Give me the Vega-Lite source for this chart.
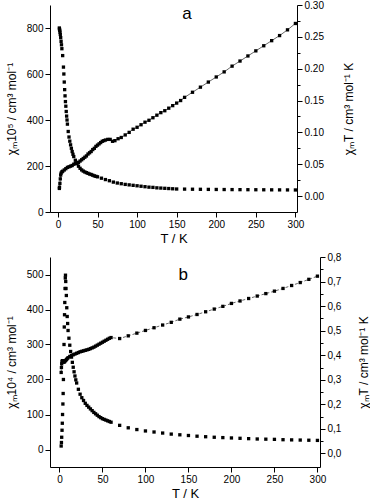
{
"$schema":"https://vega.github.io/schema/vega-lite/v6.json",
"padding":{"left":5,"top":0,"right":0,"bottom":0},
"bounds":"flush",
"spacing":45,
"config":{"view":{"stroke":null},"font":"Liberation Sans",
"axis":{"grid":false,"domainColor":"black","tickColor":"black","labelColor":"black","titleColor":"black","labelFont":"Liberation Sans","titleFont":"Liberation Sans","labelFontSize":10,"titleFontSize":12,"titleFontWeight":"normal","labelOverlap":false,"labelFlush":false,"labelPadding":2}},
"datasets":{
"a_chi":[{"T":1.8,"chi":800},{"T":2,"chi":795},{"T":2.3,"chi":790},{"T":2.6,"chi":782},{"T":3,"chi":772},{"T":3.5,"chi":758},{"T":4,"chi":742},{"T":4.5,"chi":727},{"T":5,"chi":710},{"T":6,"chi":680},{"T":7,"chi":630},{"T":7.5,"chi":600},{"T":8,"chi":565},{"T":8.5,"chi":532},{"T":9,"chi":505},{"T":9.5,"chi":480},{"T":10,"chi":460},{"T":10.5,"chi":437},{"T":11,"chi":417},{"T":11.5,"chi":400},{"T":12,"chi":382},{"T":13,"chi":350},{"T":14,"chi":326},{"T":15,"chi":308},{"T":16,"chi":292},{"T":17,"chi":277},{"T":18,"chi":263},{"T":19,"chi":251},{"T":20,"chi":241},{"T":22,"chi":225},{"T":24,"chi":211},{"T":26,"chi":199},{"T":28,"chi":190},{"T":30,"chi":183},{"T":32,"chi":178},{"T":34,"chi":174},{"T":36,"chi":171},{"T":38,"chi":168},{"T":40,"chi":165},{"T":42,"chi":163},{"T":44,"chi":160},{"T":46,"chi":157},{"T":48,"chi":155},{"T":50,"chi":153},{"T":55,"chi":147},{"T":60,"chi":141},{"T":65,"chi":136},{"T":70,"chi":130},{"T":75,"chi":126},{"T":80,"chi":123},{"T":85,"chi":120},{"T":90,"chi":118},{"T":95,"chi":116},{"T":100,"chi":114},{"T":105,"chi":112},{"T":110,"chi":110},{"T":115,"chi":108},{"T":120,"chi":107},{"T":125,"chi":105},{"T":130,"chi":104},{"T":135,"chi":103},{"T":140,"chi":102},{"T":145,"chi":101},{"T":150,"chi":100},{"T":160,"chi":99.5},{"T":170,"chi":99},{"T":180,"chi":98.7},{"T":190,"chi":98.3},{"T":200,"chi":98},{"T":210,"chi":97.7},{"T":220,"chi":97.4},{"T":230,"chi":97.2},{"T":240,"chi":97},{"T":250,"chi":96.8},{"T":260,"chi":96.6},{"T":270,"chi":96.4},{"T":280,"chi":96.2},{"T":290,"chi":96},{"T":300,"chi":95.8}],
"a_chit":[{"T":1.8,"chiT":0.012},{"T":2,"chiT":0.014},{"T":2.5,"chiT":0.02},{"T":3,"chiT":0.027},{"T":3.5,"chiT":0.033},{"T":4,"chiT":0.036},{"T":5,"chiT":0.038},{"T":6,"chiT":0.039},{"T":8,"chiT":0.041},{"T":10,"chiT":0.043},{"T":12,"chiT":0.045},{"T":14,"chiT":0.046},{"T":16,"chiT":0.047},{"T":18,"chiT":0.048},{"T":20,"chiT":0.05},{"T":22,"chiT":0.051},{"T":24,"chiT":0.052},{"T":26,"chiT":0.053},{"T":28,"chiT":0.055},{"T":30,"chiT":0.057},{"T":32,"chiT":0.059},{"T":34,"chiT":0.061},{"T":36,"chiT":0.063},{"T":38,"chiT":0.066},{"T":40,"chiT":0.068},{"T":42,"chiT":0.07},{"T":44,"chiT":0.073},{"T":46,"chiT":0.075},{"T":48,"chiT":0.078},{"T":50,"chiT":0.08},{"T":52,"chiT":0.082},{"T":54,"chiT":0.084},{"T":56,"chiT":0.086},{"T":58,"chiT":0.087},{"T":60,"chiT":0.088},{"T":63,"chiT":0.089},{"T":66,"chiT":0.089},{"T":69,"chiT":0.086},{"T":72,"chiT":0.087},{"T":76,"chiT":0.09},{"T":80,"chiT":0.092},{"T":85,"chiT":0.096},{"T":90,"chiT":0.1},{"T":95,"chiT":0.105},{"T":100,"chiT":0.108},{"T":105,"chiT":0.112},{"T":110,"chiT":0.116},{"T":115,"chiT":0.119},{"T":120,"chiT":0.123},{"T":125,"chiT":0.127},{"T":130,"chiT":0.131},{"T":135,"chiT":0.134},{"T":140,"chiT":0.138},{"T":145,"chiT":0.142},{"T":150,"chiT":0.146},{"T":155,"chiT":0.15},{"T":160,"chiT":0.155},{"T":170,"chiT":0.163},{"T":180,"chiT":0.171},{"T":190,"chiT":0.179},{"T":200,"chiT":0.187},{"T":210,"chiT":0.195},{"T":220,"chiT":0.204},{"T":230,"chiT":0.212},{"T":240,"chiT":0.22},{"T":250,"chiT":0.228},{"T":260,"chiT":0.236},{"T":270,"chiT":0.244},{"T":280,"chiT":0.252},{"T":290,"chiT":0.261},{"T":300,"chiT":0.271}],
"b_chi":[{"T":2,"chi":10},{"T":2.3,"chi":20},{"T":2.6,"chi":35},{"T":3,"chi":55},{"T":3.3,"chi":75},{"T":3.6,"chi":100},{"T":4,"chi":130},{"T":4.3,"chi":160},{"T":4.6,"chi":200},{"T":5,"chi":250},{"T":5.3,"chi":300},{"T":5.6,"chi":350},{"T":5.9,"chi":385},{"T":6.2,"chi":420},{"T":6.5,"chi":460},{"T":6.8,"chi":490},{"T":7,"chi":498},{"T":7.3,"chi":480},{"T":7.6,"chi":460},{"T":8,"chi":440},{"T":8.5,"chi":405},{"T":9,"chi":380},{"T":9.5,"chi":360},{"T":10,"chi":340},{"T":11,"chi":318},{"T":12,"chi":298},{"T":13,"chi":280},{"T":14,"chi":264},{"T":15,"chi":249},{"T":16,"chi":235},{"T":17,"chi":222},{"T":18,"chi":210},{"T":19,"chi":199},{"T":20,"chi":190},{"T":22,"chi":172},{"T":24,"chi":158},{"T":26,"chi":148},{"T":28,"chi":140},{"T":30,"chi":132},{"T":32,"chi":126},{"T":34,"chi":121},{"T":36,"chi":116},{"T":38,"chi":111},{"T":40,"chi":106},{"T":42,"chi":102},{"T":44,"chi":98},{"T":46,"chi":94},{"T":48,"chi":91},{"T":50,"chi":88},{"T":52,"chi":86},{"T":54,"chi":84},{"T":56,"chi":82},{"T":58,"chi":80},{"T":60,"chi":78},{"T":70,"chi":69},{"T":80,"chi":62},{"T":90,"chi":57},{"T":100,"chi":53},{"T":110,"chi":50},{"T":120,"chi":47},{"T":130,"chi":44},{"T":140,"chi":42},{"T":150,"chi":40},{"T":160,"chi":38},{"T":170,"chi":36.5},{"T":180,"chi":35},{"T":190,"chi":34},{"T":200,"chi":33},{"T":210,"chi":32},{"T":220,"chi":31},{"T":230,"chi":30},{"T":240,"chi":29.5},{"T":250,"chi":29},{"T":260,"chi":28},{"T":270,"chi":27.5},{"T":280,"chi":27},{"T":290,"chi":26.5},{"T":300,"chi":26}],
"b_chit":[{"T":2,"chiT":0.33},{"T":2.3,"chiT":0.35},{"T":2.6,"chiT":0.365},{"T":3,"chiT":0.375},{"T":3.5,"chiT":0.378},{"T":4,"chiT":0.376},{"T":5,"chiT":0.372},{"T":6,"chiT":0.374},{"T":7,"chiT":0.378},{"T":8,"chiT":0.382},{"T":9,"chiT":0.386},{"T":10,"chiT":0.39},{"T":12,"chiT":0.395},{"T":14,"chiT":0.399},{"T":16,"chiT":0.402},{"T":18,"chiT":0.405},{"T":20,"chiT":0.408},{"T":22,"chiT":0.411},{"T":24,"chiT":0.414},{"T":26,"chiT":0.416},{"T":28,"chiT":0.418},{"T":30,"chiT":0.42},{"T":32,"chiT":0.422},{"T":34,"chiT":0.424},{"T":36,"chiT":0.427},{"T":38,"chiT":0.43},{"T":40,"chiT":0.433},{"T":42,"chiT":0.437},{"T":44,"chiT":0.441},{"T":46,"chiT":0.445},{"T":48,"chiT":0.449},{"T":50,"chiT":0.453},{"T":52,"chiT":0.457},{"T":54,"chiT":0.461},{"T":56,"chiT":0.465},{"T":58,"chiT":0.469},{"T":60,"chiT":0.472},{"T":70,"chiT":0.468},{"T":80,"chiT":0.479},{"T":90,"chiT":0.49},{"T":100,"chiT":0.501},{"T":110,"chiT":0.512},{"T":120,"chiT":0.523},{"T":130,"chiT":0.534},{"T":140,"chiT":0.547},{"T":150,"chiT":0.556},{"T":160,"chiT":0.566},{"T":170,"chiT":0.577},{"T":180,"chiT":0.588},{"T":190,"chiT":0.599},{"T":200,"chiT":0.611},{"T":210,"chiT":0.621},{"T":220,"chiT":0.631},{"T":230,"chiT":0.641},{"T":240,"chiT":0.651},{"T":250,"chiT":0.661},{"T":260,"chiT":0.672},{"T":270,"chiT":0.684},{"T":280,"chiT":0.696},{"T":290,"chiT":0.709},{"T":300,"chiT":0.722}]
},
"vconcat":[
{"width":247,"height":207,
"layer":[
 {"layer":[
  {"data":{"name":"a_chi"},"mark":{"type":"square","size":11,"color":"black","opacity":1},
   "encoding":{
    "x":{"field":"T","type":"quantitative","scale":{"domain":[-10,302],"nice":false,"zero":false},
     "axis":{"title":"T / K","titleFontSize":13,"titlePadding":3,"values":[0,25,50,75,100,125,150,175,200,225,250,275,300],"labelExpr":"datum.value % 50 === 0 ? datum.label : ''","tickSize":{"condition":{"test":"datum.value % 50 !== 0","value":3},"value":5}}},
    "y":{"field":"chi","type":"quantitative","scale":{"domain":[0,900],"nice":false},
     "axis":{"title":"χₘ10⁵ / cm³ mol⁻¹","titlePadding":8,"values":[0,100,200,300,400,500,600,700,800],"labelExpr":"datum.value % 200 === 0 ? datum.label : ''","tickSize":{"condition":{"test":"datum.value % 200 !== 0","value":3},"value":5}}}}},
  {"data":{"values":[{}]},"mark":{"type":"text","text":"a","fontSize":17,"font":"Liberation Sans","color":"black"},
   "encoding":{"x":{"datum":163,"type":"quantitative"},"y":{"datum":860,"type":"quantitative"}}}
 ]},
 {"data":{"name":"a_chit"},
  "encoding":{
   "x":{"field":"T","type":"quantitative"},
   "y":{"field":"chiT","type":"quantitative","scale":{"domain":[-0.025,0.3],"nice":false,"zero":false},
    "axis":{"orient":"right","title":"χₘT / cm³ mol⁻¹ K","titleAngle":270,"titlePadding":32,"values":[0,0.025,0.05,0.075,0.1,0.125,0.15,0.175,0.2,0.225,0.25,0.275,0.3],"labelExpr":"round(datum.value*40) % 2 === 0 ? format(datum.value, '.2f') : ''","tickSize":{"condition":{"test":"round(datum.value*40) % 2 !== 0","value":3},"value":5}}}},
  "layer":[
   {"mark":{"type":"line","color":"black","strokeWidth":0.6}},
   {"mark":{"type":"square","size":11,"color":"black","opacity":1}}
  ]}
],
"resolve":{"scale":{"y":"independent"}}},
{"width":270,"height":210,
"layer":[
 {"layer":[
  {"data":{"name":"b_chi"},"mark":{"type":"square","size":11,"color":"black","opacity":1},
   "encoding":{
    "x":{"field":"T","type":"quantitative","scale":{"domain":[-11,303],"nice":false,"zero":false},
     "axis":{"title":"T / K","titleFontSize":13,"titlePadding":3,"values":[0,25,50,75,100,125,150,175,200,225,250,275,300],"labelExpr":"datum.value % 50 === 0 ? datum.label : ''","tickSize":{"condition":{"test":"datum.value % 50 !== 0","value":3},"value":5}}},
    "y":{"field":"chi","type":"quantitative","scale":{"domain":[-50,550],"nice":false,"zero":false},
     "axis":{"title":"χₘ10⁴ / cm³ mol⁻¹","titlePadding":8,"values":[0,50,100,150,200,250,300,350,400,450,500],"labelExpr":"datum.value % 100 === 0 ? datum.label : ''","tickSize":{"condition":{"test":"datum.value % 100 !== 0","value":3},"value":5}}}}},
  {"data":{"values":[{}]},"mark":{"type":"text","text":"b","fontSize":17,"font":"Liberation Sans","color":"black"},
   "encoding":{"x":{"datum":144,"type":"quantitative"},"y":{"datum":500,"type":"quantitative"}}}
 ]},
 {"data":{"name":"b_chit"},
  "encoding":{
   "x":{"field":"T","type":"quantitative"},
   "y":{"field":"chiT","type":"quantitative","scale":{"domain":[-0.055,0.8],"nice":false,"zero":false},
    "axis":{"orient":"right","title":"χₘT / cm³ mol⁻¹ K","titleAngle":270,"titlePadding":30,"values":[0,0.05,0.1,0.15,0.2,0.25,0.3,0.35,0.4,0.45,0.5,0.55,0.6,0.65,0.7,0.75,0.8],"labelExpr":"round(datum.value*20) % 2 === 0 ? replace(format(datum.value, '.1f'), '.', ',') : ''","tickSize":{"condition":{"test":"round(datum.value*20) % 2 !== 0","value":3},"value":5}}}},
  "layer":[
   {"mark":{"type":"line","color":"black","strokeWidth":0.6,"strokeDash":[3,2]}},
   {"mark":{"type":"square","size":11,"color":"black","opacity":1}}
  ]}
],
"resolve":{"scale":{"y":"independent"}}}
]
}
